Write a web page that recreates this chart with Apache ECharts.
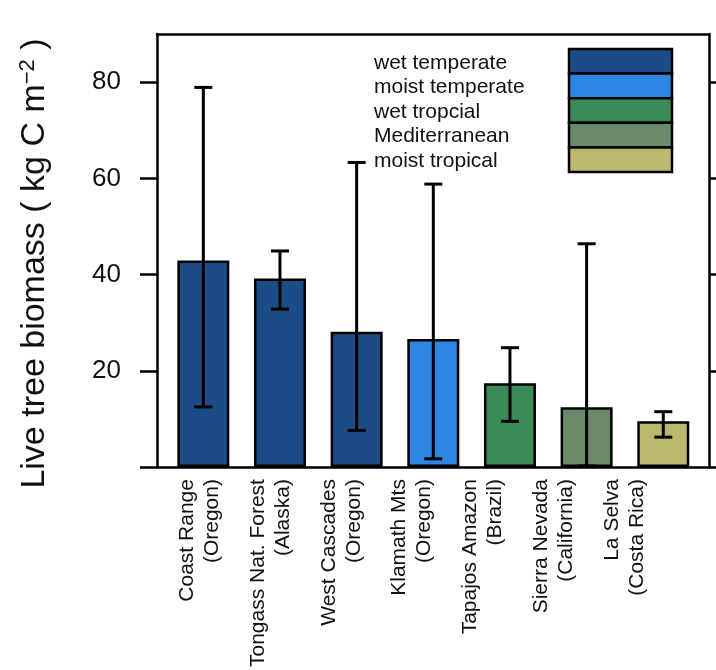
<!DOCTYPE html>
<html>
<head>
<meta charset="utf-8">
<script src="https://cdn.jsdelivr.net/npm/echarts@6/dist/echarts.min.js"></script>
<style>html,body{margin:0;padding:0;background:#fff;}#c{width:716px;height:670px;}</style>
</head>
<body>
<div id="c"></div>
<script>
const categories = ['Coast Range\n(Oregon)', 'Tongass Nat. Forest\n(Alaska)', 'West Cascades\n(Oregon)', 'Klamath Mts\n(Oregon)', 'Tapajos Amazon\n(Brazil)', 'Sierra Nevada\n(California)', 'La Selva\n(Costa Rica)'];
const biomass = [42.9, 39.2, 28.1, 26.6, 17.4, 12.4, 9.5];
const errLow = [12.5, 32.8, 7.6, 1.7, 9.5, 0.2, 6.2];
const errHigh = [78.9, 44.9, 63.3, 58.8, 24.8, 46.4, 11.5];
const siteRegion = [0, 0, 0, 1, 2, 3, 4];
const regions = ['wet temperate', 'moist temperate', 'wet tropcial', 'Mediterranean', 'moist tropical'];
const regionColors = ['#1b4c86', '#2e86e2', '#3b8a57', '#6b8a6a', '#bdb870'];
const yTicks = [0, 20, 40, 60, 80];
const yLabels = [20, 40, 60, 80];

const FONT = "'Liberation Sans', Arial, Helvetica, sans-serif";
const INK = '#111';

const chart = echarts.init(document.getElementById('c'), null, {renderer: 'canvas'});

const legendGraphics = [];
const boxX = 569, boxY = 49, boxW = 103, boxH = 24.6;
regions.forEach((r, i) => {
  legendGraphics.push({
    type: 'rect', shape: {x: boxX, y: boxY + i * boxH, width: boxW, height: boxH},
    style: {fill: regionColors[i], stroke: '#000', lineWidth: 2.5}, z: 10
  });
  legendGraphics.push({
    type: 'text', x: 374, y: boxY + i * boxH + boxH / 2 + 1.5,
    style: {text: r, font: '21px ' + FONT, fill: INK, textVerticalAlign: 'middle', textAlign: 'left'}, z: 10
  });
});

const lineSt = {color: '#000', width: 2.5};

const option = {
  animation: false,
  backgroundColor: '#fff',
  grid: [
    {left: 157, top: 34, width: 552, height: 433, containLabel: false},
    {left: 165, top: 34, width: 536.6, height: 433, containLabel: false},
    {left: 164.6, top: 34, width: 495, height: 433, containLabel: false}
  ],
  xAxis: [
    {gridIndex: 0, type: 'value', min: 0, max: 1, position: 'bottom',
      axisLine: {show: true, onZero: false, lineStyle: lineSt}, axisTick: {show: false}, axisLabel: {show: false}, splitLine: {show: false}},
    {gridIndex: 0, type: 'value', min: 0, max: 1, position: 'top',
      axisLine: {show: true, onZero: false, lineStyle: lineSt}, axisTick: {show: false}, axisLabel: {show: false}, splitLine: {show: false}},
    {gridIndex: 1, type: 'category', data: categories, show: false},
    {gridIndex: 2, type: 'category', data: categories, position: 'bottom',
      axisLine: {show: false, onZero: false}, axisTick: {show: false}, splitLine: {show: false},
      axisLabel: {show: true, interval: 0, rotate: 90, margin: 24, fontSize: 21, lineHeight: 25, fontFamily: FONT, color: INK}}
  ],
  yAxis: [
    {gridIndex: 0, type: 'value', min: 0, max: 90, position: 'left',
      axisLine: {show: true, onZero: false, lineStyle: lineSt},
      axisTick: {show: true, inside: false, length: 17, lineStyle: lineSt, customValues: yTicks},
      axisLabel: {show: true, margin: 36, fontSize: 26, fontFamily: FONT, color: INK, customValues: yLabels},
      splitLine: {show: false},
      name: '{a|Live tree biomass ( kg C m}{s|\u22122}{a| )}',
      nameLocation: 'middle', nameRotate: 90, nameGap: 104,
      nameTextStyle: {padding: [0, 26, 0, 0], rich: {
        a: {fontSize: 34, fontFamily: FONT, color: INK},
        s: {fontSize: 22, fontFamily: FONT, color: INK, verticalAlign: 'top', padding: [0, 0, 14, 0]}
      }}},
    {gridIndex: 0, type: 'value', min: 0, max: 90, position: 'right',
      axisLine: {show: true, onZero: false, lineStyle: lineSt},
      axisTick: {show: true, inside: false, length: 7, lineStyle: lineSt, customValues: yTicks},
      axisLabel: {show: false}, splitLine: {show: false}},
    {gridIndex: 1, type: 'value', min: 0, max: 90, show: false, splitLine: {show: false}},
    {gridIndex: 2, type: 'value', min: 0, max: 90, show: false, splitLine: {show: false}}
  ],
  series: [
    {
      type: 'bar', xAxisIndex: 2, yAxisIndex: 2, barWidth: 52,
      data: biomass.map((v, i) => ({value: v, itemStyle: {color: regionColors[siteRegion[i]]}})),
      itemStyle: {borderColor: '#000', borderWidth: 2.5}, z: 2
    },
    {
      type: 'custom', xAxisIndex: 2, yAxisIndex: 2, z: 5,
      data: biomass.map((v, i) => [i, errLow[i], errHigh[i]]),
      renderItem: function (params, api) {
        const lo = api.coord([api.value(0), api.value(1)]);
        const hi = api.coord([api.value(0), api.value(2)]);
        const cw = 9;
        const st = {stroke: '#000', lineWidth: 3};
        return {type: 'group', children: [
          {type: 'line', shape: {x1: lo[0], y1: lo[1], x2: hi[0], y2: hi[1]}, style: st},
          {type: 'line', shape: {x1: lo[0] - cw, y1: lo[1], x2: lo[0] + cw, y2: lo[1]}, style: st},
          {type: 'line', shape: {x1: hi[0] - cw, y1: hi[1], x2: hi[0] + cw, y2: hi[1]}, style: st}
        ]};
      }
    }
  ],
  graphic: legendGraphics
};
chart.setOption(option);
</script>
</body>
</html>
